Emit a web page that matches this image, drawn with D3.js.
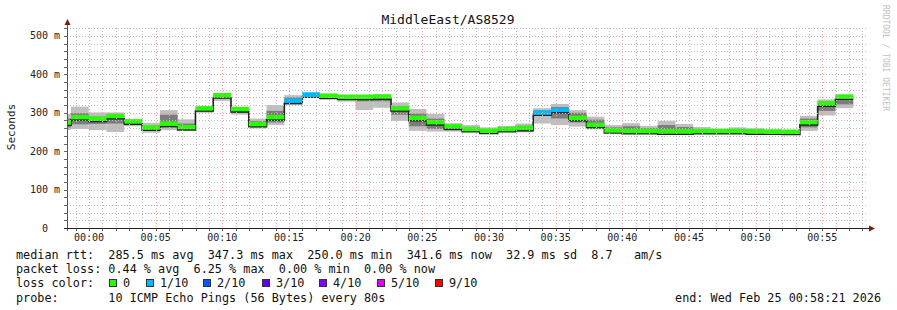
<!DOCTYPE html>
<html>
<head>
<meta charset="utf-8">
<script src="https://cdn.jsdelivr.net/npm/d3@7"></script>
<style>
  body { margin: 0; background: #fff; }
  text { font-family: "DejaVu Sans Mono", monospace; white-space: pre; }
</style>
</head>
<body>
<div id="chart"></div>
<script>
// median rtt per 80s step (ms), first step is partial
let median = [274, 288, 284, 291, 277, 261, 271, 262, 311, 345, 309, 270, 288, 331, 347,
  344, 341, 341, 342, 311, 286, 275, 264, 257, 253, 257, 260, 300, 307, 286, 268,
  254, 252, 252, 251, 251, 252, 252, 252, 251, 250.5, 250, 275, 324, 341.6];
// lost pings out of 10 per step
let loss = [0, 0, 0, 0, 0, 0, 0, 0, 0, 0, 0, 0, 0, 1, 1,
  0, 0, 0, 0, 0, 0, 0, 0, 0, 0, 0, 0, 1, 1, 0, 0,
  0, 0, 0, 0, 0, 0, 0, 0, 0, 0, 0, 0, 0, 0];
// smoke, outer range (ms)
let smokeLo = [255, 258, 255, 250, 265, 248, 255, 255, 300, 331, 295, 259, 268, 320, 344,
  340, 329, 307, 313, 279, 253, 251, 251, 251, 250, 251, 249, 272, 268, 264, 257,
  250, 251, 255, 251, 253, 250, 250, 251, 251, 250, 250, 253, 293, 312];
let smokeHi = [297, 316, 301, 301, 282, 274, 307, 283, 312, 347, 313, 285, 320, 346, 348,
  346, 344, 345, 346, 327, 310, 297, 273, 268, 262, 266, 272, 312, 323, 307, 290,
  268, 273, 266, 279, 271, 263, 258, 262, 260, 253, 252, 292, 335, 346];
// smoke, inner range (ms)
let innerLo = [262, 270, 271, 272, 268, 254, 262, 258, 303, 338, 300, 263, 275, 325, 345,
  341, 335, 330, 330, 295, 265, 258, 254, 253, 251, 253, 252, 292, 285, 275, 262,
  250, 250, 250, 252, 252, 251, 251, 251, 251, 250, 250, 262, 305, 322];
let innerHi = [285, 299, 290, 295, 280, 266, 295, 272, 311, 346, 310, 278, 305, 340, 347,
  345, 343, 343, 345, 318, 298, 285, 268, 262, 258, 262, 266, 306, 315, 300, 282,
  262, 265, 260, 268, 263, 258, 256, 258, 256, 252, 251, 285, 330, 344];

let yTicks = [0, 100, 200, 300, 400, 500];
let xTickLabels = ["00:00", "00:05", "00:10", "00:15", "00:20", "00:25", "00:30", "00:35", "00:40", "00:45", "00:50", "00:55"];

let lossNames = ["0", "1/10", "2/10", "3/10", "4/10", "5/10", "9/10"];
let lossColors = ["#26ff00", "#00b8ff", "#0059ff", "#5e00ff", "#7e00ff", "#dd00ff", "#ff0000"];
let lossBoxX = [109, 146, 203, 262, 319, 377, 435];

let legendLines = [
  "median rtt:  285.5 ms avg  347.3 ms max  250.0 ms min  341.6 ms now  32.9 ms sd  8.7   am/s",
  "packet loss: 0.44 % avg  6.25 % max  0.00 % min  0.00 % now",
  "loss color:",
  "probe:       10 ICMP Echo Pings (56 Bytes) every 80s"
];

let W = 897, H = 310;
let plot = {left: 67, right: 867, top: 28, bottom: 228};

let endTime = new Date(2026, 1, 25, 0, 58, 21);
let startTime = new Date(endTime.getTime() - 3600 * 1000);
let firstStep = new Date(2026, 1, 24, 23, 58, 39);
let stepMs = 80 * 1000;

let x = d3.scaleTime().domain([startTime, endTime]).range([plot.left, plot.right]);
let y = d3.scaleLinear().domain([0, 520.8]).range([plot.bottom, plot.top]);

let stepStart = function(i){
  return i === 0 ? startTime : new Date(firstStep.getTime() + (i - 1) * stepMs);
};
let stepEnd = function(i){
  return new Date(firstStep.getTime() + i * stepMs);
};

let svg = d3.select("#chart").append("svg")
  .attr("width", W).attr("height", H);

svg.append("rect").attr("width", W).attr("height", H).attr("fill", "#fff");

let idx = d3.range(median.length);

// smoke
let smoke = svg.append("g");
smoke.selectAll(".outer").data(idx).enter().append("rect")
  .attr("x", i => x(stepStart(i)))
  .attr("width", i => x(stepEnd(i)) - x(stepStart(i)))
  .attr("y", i => y(smokeHi[i]))
  .attr("height", i => y(smokeLo[i]) - y(smokeHi[i]))
  .attr("fill", "#bfbfbf");
smoke.selectAll(".inner").data(idx).enter().append("rect")
  .attr("x", i => x(stepStart(i)))
  .attr("width", i => x(stepEnd(i)) - x(stepStart(i)))
  .attr("y", i => y(innerHi[i]))
  .attr("height", i => y(innerLo[i]) - y(innerHi[i]))
  .attr("fill", "#7c7c7c");

// median step line
let pts = [];
idx.forEach(function(i){
  pts.push([x(stepStart(i)), y(median[i]) + 2.5]);
  pts.push([x(stepEnd(i)), y(median[i]) + 2.5]);
});
svg.append("path")
  .attr("d", d3.line()(pts))
  .attr("fill", "none")
  .attr("stroke", "#202020")
  .attr("stroke-width", 1.6);

// median bands coloured by loss
svg.selectAll(".med").data(idx).enter().append("rect")
  .attr("x", i => x(stepStart(i)))
  .attr("width", i => x(stepEnd(i)) - x(stepStart(i)))
  .attr("y", i => y(median[i]) - 2.5)
  .attr("height", 4.5)
  .attr("fill", i => lossColors[loss[i]]);

// grid
let grid = svg.append("g");
let minorY = d3.range(0, 521, 20).filter(v => v % 100 !== 0);
grid.selectAll(".hm").data(minorY).enter().append("line")
  .attr("x1", plot.left).attr("x2", plot.right)
  .attr("y1", v => Math.round(y(v)) + 0.5).attr("y2", v => Math.round(y(v)) + 0.5)
  .attr("stroke", "#bbb").attr("stroke-dasharray", "1,2");
let minutes = d3.timeMinute.range(startTime, endTime);
grid.selectAll(".vm").data(minutes.filter(t => t.getMinutes() % 5 !== 0)).enter().append("line")
  .attr("y1", plot.top).attr("y2", plot.bottom)
  .attr("x1", t => Math.round(x(t)) + 0.5).attr("x2", t => Math.round(x(t)) + 0.5)
  .attr("stroke", "#bbb").attr("stroke-dasharray", "1,2");
grid.selectAll(".hM").data(yTicks.slice(1)).enter().append("line")
  .attr("x1", plot.left).attr("x2", plot.right)
  .attr("y1", v => Math.round(y(v)) + 0.5).attr("y2", v => Math.round(y(v)) + 0.5)
  .attr("stroke", "#f0a0a0").attr("stroke-dasharray", "1,2");
grid.selectAll(".vM").data(minutes.filter(t => t.getMinutes() % 5 === 0)).enter().append("line")
  .attr("y1", plot.top).attr("y2", plot.bottom)
  .attr("x1", t => Math.round(x(t)) + 0.5).attr("x2", t => Math.round(x(t)) + 0.5)
  .attr("stroke", "#f0a0a0").attr("stroke-dasharray", "1,2");

// small ticks
grid.selectAll(".ty").data(d3.range(0, 521, 20)).enter().append("line")
  .attr("x1", plot.left - 3).attr("x2", plot.left)
  .attr("y1", v => Math.round(y(v)) + 0.5).attr("y2", v => Math.round(y(v)) + 0.5)
  .attr("stroke", "#666");
grid.selectAll(".tx").data(minutes).enter().append("line")
  .attr("y1", plot.bottom).attr("y2", plot.bottom + 3)
  .attr("x1", t => Math.round(x(t)) + 0.5).attr("x2", t => Math.round(x(t)) + 0.5)
  .attr("stroke", "#666");

// axes
svg.append("line").attr("x1", plot.left + 0.5).attr("x2", plot.left + 0.5)
  .attr("y1", plot.bottom + 3).attr("y2", 23).attr("stroke", "#555");
svg.append("line").attr("x1", plot.left - 3).attr("x2", 870)
  .attr("y1", plot.bottom + 0.5).attr("y2", plot.bottom + 0.5).attr("stroke", "#222");
svg.append("path").attr("d", "M64.5,25 L67.5,19 L70.5,25 Z").attr("fill", "#7a1a1a");
svg.append("path").attr("d", "M869,225.5 L875,228.5 L869,231.5 Z").attr("fill", "#7a1a1a");

// y labels
svg.selectAll(".yl").data(yTicks).enter().append("text")
  .attr("x", 60).attr("y", v => y(v) + 3.5)
  .attr("text-anchor", "end")
  .attr("font-size", "10px").attr("fill", "#222")
  .text(v => v === 0 ? "0  " : v + " m");

// x labels
let fiveMin = minutes.filter(t => t.getMinutes() % 5 === 0);
svg.selectAll(".xl").data(fiveMin).enter().append("text")
  .attr("x", t => x(t)).attr("y", 241)
  .attr("text-anchor", "middle")
  .attr("font-size", "10px").attr("fill", "#222")
  .text((t, i) => xTickLabels[i]);

// title
svg.append("text").attr("x", 448).attr("y", 24)
  .attr("text-anchor", "middle").attr("font-size", "13px").attr("fill", "#111")
  .text("MiddleEast/AS8529");

svg.append("text")
  .attr("transform", "translate(15,127) rotate(-90)")
  .attr("text-anchor", "middle").attr("font-size", "11px").attr("fill", "#222")
  .text("Seconds");

svg.append("text")
  .attr("transform", "translate(883,5) rotate(90)")
  .attr("font-size", "8px").attr("fill", "#c0c0c0")
  .text("RRDTOOL / TOBI OETIKER");

// legend
svg.selectAll(".lg").data(legendLines).enter().append("text")
  .attr("x", 16).attr("y", (d, i) => 259 + i * 14.2)
  .attr("font-size", "11.8px").attr("fill", "#111")
  .text(d => d);

lossNames.forEach(function(n, i){
  svg.append("rect").attr("x", lossBoxX[i] + 0.5).attr("y", 279.5)
    .attr("width", 7).attr("height", 7)
    .attr("fill", lossColors[i]).attr("stroke", "#333");
  svg.append("text").attr("x", lossBoxX[i] + 14).attr("y", 287.4)
    .attr("font-size", "11.8px").attr("fill", "#111").text(n);
});

svg.append("text").attr("x", 881).attr("y", 301.6)
  .attr("text-anchor", "end").attr("font-size", "11.8px").attr("fill", "#111")
  .text("end: Wed Feb 25 00:58:21 2026");
</script>
</body>
</html>
